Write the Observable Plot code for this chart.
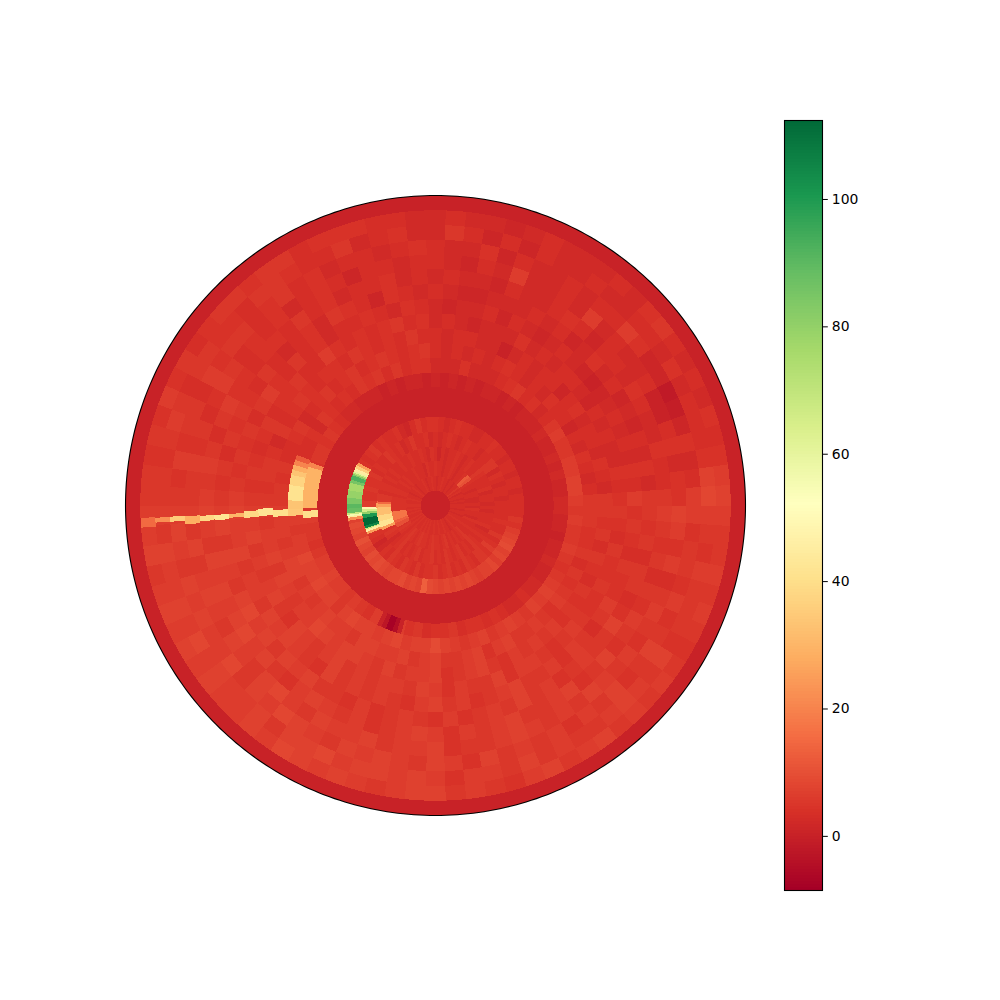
<!DOCTYPE html>
<html>
<head>
<meta charset="utf-8">
<script src="https://cdn.jsdelivr.net/npm/d3@7"></script>
<script src="https://cdn.jsdelivr.net/npm/@observablehq/plot@0.6"></script>
<style>
html,body{margin:0;padding:0;background:#fff}
#chart{display:flex;width:1000px;height:1000px}
svg{display:block;flex:none}
</style>
</head>
<body>
<div id="chart"></div>
<script>
// Each list: 90 sectors of 4 degrees, counter-clockwise from east.
const ring1 = [3,2,3,2,3,3,2,4,3,5,3,3,2,3,3,2,3,3,4,3,3,2,3, 3,4,3,3,2,3,4,3,3,3,2,3,4,3,3,2,3,3,4,3,3,4, 4,3,4,3,4,3,3,4,3,4,3,4,3,3,4,3,4,3,4,3,3,4,3, 3,4,3,3,4,3,3,2,3,4,3,3,3,4,3,3,2,3,3,2,3,3];
const ring2 = [3,2,2,3,3,2,3,3,4,10,12,4,3,3,2,3,4,3,3,2,3,3,4, 3,3,4,2,3,3,3,4,3,3,3,4,3,4,3,3,4,4,3,4,4,4, 4,4,5,5,6,5,5,4,5,4,3,4,5,4,3,4,5,4,4,3,4,5,4, 4,3,4,5,3,4,3,4,3,4,5,3,3,4,3,3,4,2,3,3,4,2];
const ring3 = [2,3,3,2,4,3,3,3,4,5,3,3,4,3,2,3,4,3,3,2,3,1,3, 4,2,3,4,3,3,4,3,3,4,3,3,4,3,4,3,4,4,3,5,5,6, 5,5,6,7,6,5,4,5,4,2,3,4,5,3,4,3,4,5,3,4,4,5,3, 4,3,5,4,3,4,5,3,4,3,5,4,3,4,3,2,4,3,3,3,2,3];
const ring4 = [3,2,3,3,2,3,4,2,5,5,3,3,2,3,3,4,3,2,3,4,3,2,3, 2,4,3,3,5,3,2,4,3,4,5,3,3,4,3,5,4,4,5,4,4,6, 6,5,5,6,5,5,4,3,1,2,4,3,5,4,3,5,4,3,5,3,4,4,5, 3,4,5,3,4,3,5,4,3,5,5,4,6,4,3,5,3,3,4,3,3,3];
const ring5 = [3,3,2,3,3,2,3,3,2,3,3,4,3,3,2,2,3,3,4,3,2,3,4, 4,3,5,3,1,2,4,3,3,4,3,5,4,3,4,5,3,4,4,5,4,5, 6,9,7,9,8,7,10,8,7,9,8,9,8,7,8,8,9,7,8,7,13,9,8, 7,8,7,8,7,8,7,6,7,7,8,6,8,7,9,8,7,6,4,5,3,3];
const ring8 = [2,1,1,2,1,2,1,1,2,1,1,1,0,1,0,1,1,0,1,0,1,0,1, 0,1,1,0,1,0,1,1,1,2,2,3,4,5,4,5,5,4,3,4,4,5, 5,6,5,5,4,5,6,6,7,6,6,5,6,5,4,6,5,4,6,4,5,3,4, 4,5,3,4,4,3,4,3,2,2,3,2,2,1,1,2,1,1,0,1,1,2];
const ring9 = [6,7,7,6,6,5,5,6,5,3,2,4,3,5,4,3,2,2,2,4,2,2,2, 4,4,3,5,3,5,4,5,3,4,3,4,5,2,4,3,3,4,3,4,4,5, 5,6,5,6,6,8,7,7,8,7,7,5,7,8,7,7,6,7,8,6,7,7,9, 7,6,5,6,7,5,6,7,6,5,7,6,7,6,5,4,5,6,5,5,6,5];
const ring10 = [5,3,2,3,4,2,3,1,3,3,4,2,3,2,3,4,3,2,3,2,3,2,3, 5,4,3,4,5,4,3,5,4,3,5,4,3,2,5,4,3,3,5,4,5,5, 6,6,6,5,6,7,7,5,6,5,6,7,6,6,5,7,7,6,6,7,5,6,7, 5,5,6,7,4,6,7,5,5,6,5,4,6,5,4,5,3,5,4,4,5,5];
const ring11 = [5,2,3,4,2,3,3,2,4,3,1,3,3,2,3,2,0,2,2,3,3,2,3, 3,5,3,4,3,4,5,3,4,4,3,4,5,4,3,5,2,4,5,5,4,5, 6,5,6,6,7,5,7,6,5,6,6,8,7,6,7,7,6,5,7,5,6,6,7, 4,5,6,7,5,4,6,5,6,5,6,4,5,4,5,3,4,5,3,5,4,5];
const ring12 = [4,3,4,2,2,3,2,3,1,2,3,3,2,3,2,4,2,2,2,1,2,3,2, 4,3,5,4,3,4,3,4,6,3,3,5,4,4,3,5,4,3,4,5,4,5, 6,6,7,5,6,5,6,7,5,4,7,6,5,6,7,5,6,5,6,6,5,7,6, 4,6,5,5,7,4,6,6,5,4,5,6,5,4,4,5,4,4,5,3,4,5];
const ring13 = [6,3,4,2,3,2,3,2,1,0,1,2,3,2,1,2,3,1,3,2,2,1,2, 3,4,2,3,4,3,3,2,4,3,5,3,4,6,5,3,5,4,5,4,5,6, 7,6,6,7,5,6,6,5,7,6,7,6,5,4,7,5,6,5,6,5,4,6,7, 5,6,4,5,6,7,5,5,6,4,6,5,3,5,6,4,4,5,3,4,5,4];
const ring14 = [5,2,4,2,3,1,2,1,3,2,4,2,1,3,2,3,2,2,2,1,1,2,3, 2,3,4,1,3,4,5,2,4,3,2,3,5,3,4,5,4,5,3,5,4,5, 6,7,5,7,6,5,7,8,6,7,5,7,6,7,5,5,4,6,4,5,6,5,4, 6,4,5,6,5,7,5,6,4,5,6,5,5,7,4,3,5,5,3,5,4,5];
const ring15 = [5,3,3,4,2,2,3,4,2,3,3,1,3,4,3,2,2,3,1,2,2,3,2, 3,2,4,3,3,2,4,3,5,3,4,4,3,4,4,6,5,3,5,6,5,6, 7,6,5,7,6,7,6,7,8,6,7,5,4,6,7,6,5,6,4,5,6,7,6, 4,6,5,6,7,5,5,6,7,4,5,7,4,5,6,4,5,3,5,4,5,6];
const ring16 = [4,4,2,4,3,0,0,3,2,2,3,2,6,2,3,2,2,6,2,3,1,2,3, 3,2,3,3,1,3,4,3,2,4,3,4,3,5,6,4,3,5,4,6,5,5, 6,5,7,5,6,7,6,5,7,6,5,7,8,6,5,7,6,6,7,5,6,6,7, 4,5,5,6,7,6,5,6,5,7,6,5,6,4,5,6,5,3,6,4,6,7];
const ring17 = [6,3,2,4,1,-1,-2,1,1,4,6,3,3,2,3,2,2,3,1,4,2,2,3, 4,3,2,3,3,2,4,3,5,4,3,5,5,4,6,3,5,5,4,6,4,5, 6,7,6,5,7,6,7,6,6,8,5,7,6,8,7,6,5,7,6,7,6,5,7, 6,4,7,5,6,5,6,4,6,5,7,4,5,7,5,4,6,4,5,5,4,6];
const ring18 = [8,7,4,3,3,3,2,4,2,3,3,2,2,3,2,2,3,1,3,1,3,5,2, 2,4,3,2,5,3,3,4,5,5,3,4,4,5,5,3,5,6,5,4,5,5, 6,5,7,6,6,7,6,8,6,7,6,6,7,5,7,7,8,6,7,7,6,7,6, 4,6,6,5,7,5,6,5,5,6,7,6,5,7,4,5,5,5,6,4,5,6];
const ring19 = [7,6,4,3,4,2,3,2,3,5,4,2,3,2,2,2,3,2,1,2,2,3,2, 2,3,3,4,4,4,3,5,5,4,5,5,4,3,5,4,6,4,5,4,5,5, 6,6,7,5,6,7,6,7,6,7,6,6,7,6,8,7,6,7,6,5,6,7,7, 5,6,5,4,6,7,5,6,7,5,6,5,6,5,4,5,6,5,6,5,5,6];
const dataRings = [[1,ring1],[2,ring2],[3,ring3],[4,ring4],[5,ring5],[8,ring8],[9,ring9],[10,ring10],[11,ring11],[12,ring12],[13,ring13],[14,ring14],[15,ring15],[16,ring16],[17,ring17],[18,ring18],[19,ring19]];

// Finer cells: the hot and cold features.
const hotRing = [5,5,5,5,5,5,5,5,5,5,5,5,5,5,5,5,5, 4,4,4,4,4,4,4,4,4, 3,3,3,3,3,3, 2,2,2, 9,9,9,9,9,9,9, 8,8, 8,9,10,11,12,13,14,15,16,17,18,19, 8,8,8,8,8];
const hotFrom = [151,153,155,157,158,159,160,163,165,170,175,179,182,185,186,187,188, 181,183,185,187,190,196,198,199,201, 176,178,182,190,196,202, 188,200,204, 160,162,164,166,168,172,178, 161,163, 182.3,181.3,181.5,181,181.6,182.3,182.4,182.5,182.4,182.4,182.5,182.4, 244,246,248,251,253];
const hotTo = [153,155,157,158,159,160,163,165,170,175,179,182,185,186,187,188,190, 183,185,187,190,196,198,199,201,203, 178,182,190,196,202,205, 200,204,210, 162,164,166,168,172,178,181.3, 163,181, 185.5,184.1,184,183.4,183.7,183.4,183.8,183.8,184.3,183.5,183.5,184.3, 246,248,251,253,255];
const hotValue = [25,35,45,60,72,82,92,85,76,79,84,90,88,68,55,44,22, 48,65,80,100,112,105,70,45,25, 15,25,32,38,42,25, 17,13,10, 12,20,28,33,37,41,33, 20,29, 40,34,40,42,38,30,42,38,28,35,22,15, 0,-3,-8,-5,0];

const colorStops = ["#a50026","#d73027","#f46d43","#fdae61","#fee08b","#ffffbf","#d9ef8b","#a6d96a","#66bd63","#1a9850","#006837"];
const colorMin = -8.5, colorMax = 112.4;
const tickValues = [0,20,40,60,80,100];
const ringCount = 21;

const colorScale = {
  type: "linear",
  domain: colorStops.map((_, i) => colorMin + (colorMax - colorMin) * i / (colorStops.length - 1)),
  range: colorStops,
  clamp: true
};

function wedge(r0, r1, a0, a1, value) {
  const n = Math.max(1, Math.ceil(a1 - a0));
  const angles = d3.range(n + 1).map(i => a0 + (a1 - a0) * i / n);
  const ring = [...angles.map(a => [a, r1]), ...angles.slice().reverse().map(a => [a, r0])];
  ring.push(ring[0]);
  return {type: "Feature", properties: {value}, geometry: {type: "Polygon", coordinates: [ring]}};
}

const cells = [wedge(0, ringCount, 0, 360, 0)];
for (const [k, values] of dataRings) values.forEach((v, i) => cells.push(wedge(k, k + 1, i * 4, (i + 1) * 4, v)));
hotRing.forEach((k, i) => cells.push(wedge(k, k + 1, hotFrom[i], hotTo[i], hotValue[i])));

const outline = {type: "LineString", coordinates: d3.range(361).map(a => [a, ringCount])};

const polar = d3.geoTransform({
  point(a, r) {
    const t = a * Math.PI / 180, p = r * 310 / ringCount;
    this.stream.point(435 + p * Math.cos(t), 505 - p * Math.sin(t));
  }
});

const disc = Plot.plot({
  width: 780, height: 1000, margin: 0,
  projection: polar,
  color: colorScale,
  marks: [
    Plot.geo(cells, {fill: d => d.properties.value, shapeRendering: "crispEdges"}),
    Plot.geo([outline], {stroke: "black", strokeWidth: 1.1, fill: "none"})
  ]
});

const levels = d3.range(256).map(i => colorMin + (colorMax - colorMin) * i / 256);
const step = (colorMax - colorMin) / 256;
const bar = Plot.plot({
  width: 220, height: 1000,
  marginLeft: 4, marginRight: 178, marginTop: 120, marginBottom: 110,
  style: {fontFamily: "DejaVu Sans", fontSize: "13.9px", color: "black"},
  x: {domain: [0, 1], axis: null},
  y: {domain: [colorMin, colorMax]},
  color: colorScale,
  marks: [
    Plot.rect(levels, {x1: 0, x2: 1, y1: d => d, y2: d => d + step, fill: d => d, shapeRendering: "crispEdges"}),
    Plot.frame({stroke: "black", strokeWidth: 1.1}),
    Plot.axisY({anchor: "right", ticks: tickValues, tickFormat: d => String(d), tickSize: 4.8, tickPadding: 4.5, label: null, fontSize: 13.9})
  ]
});

document.getElementById("chart").append(disc, bar);
</script>
</body>
</html>
